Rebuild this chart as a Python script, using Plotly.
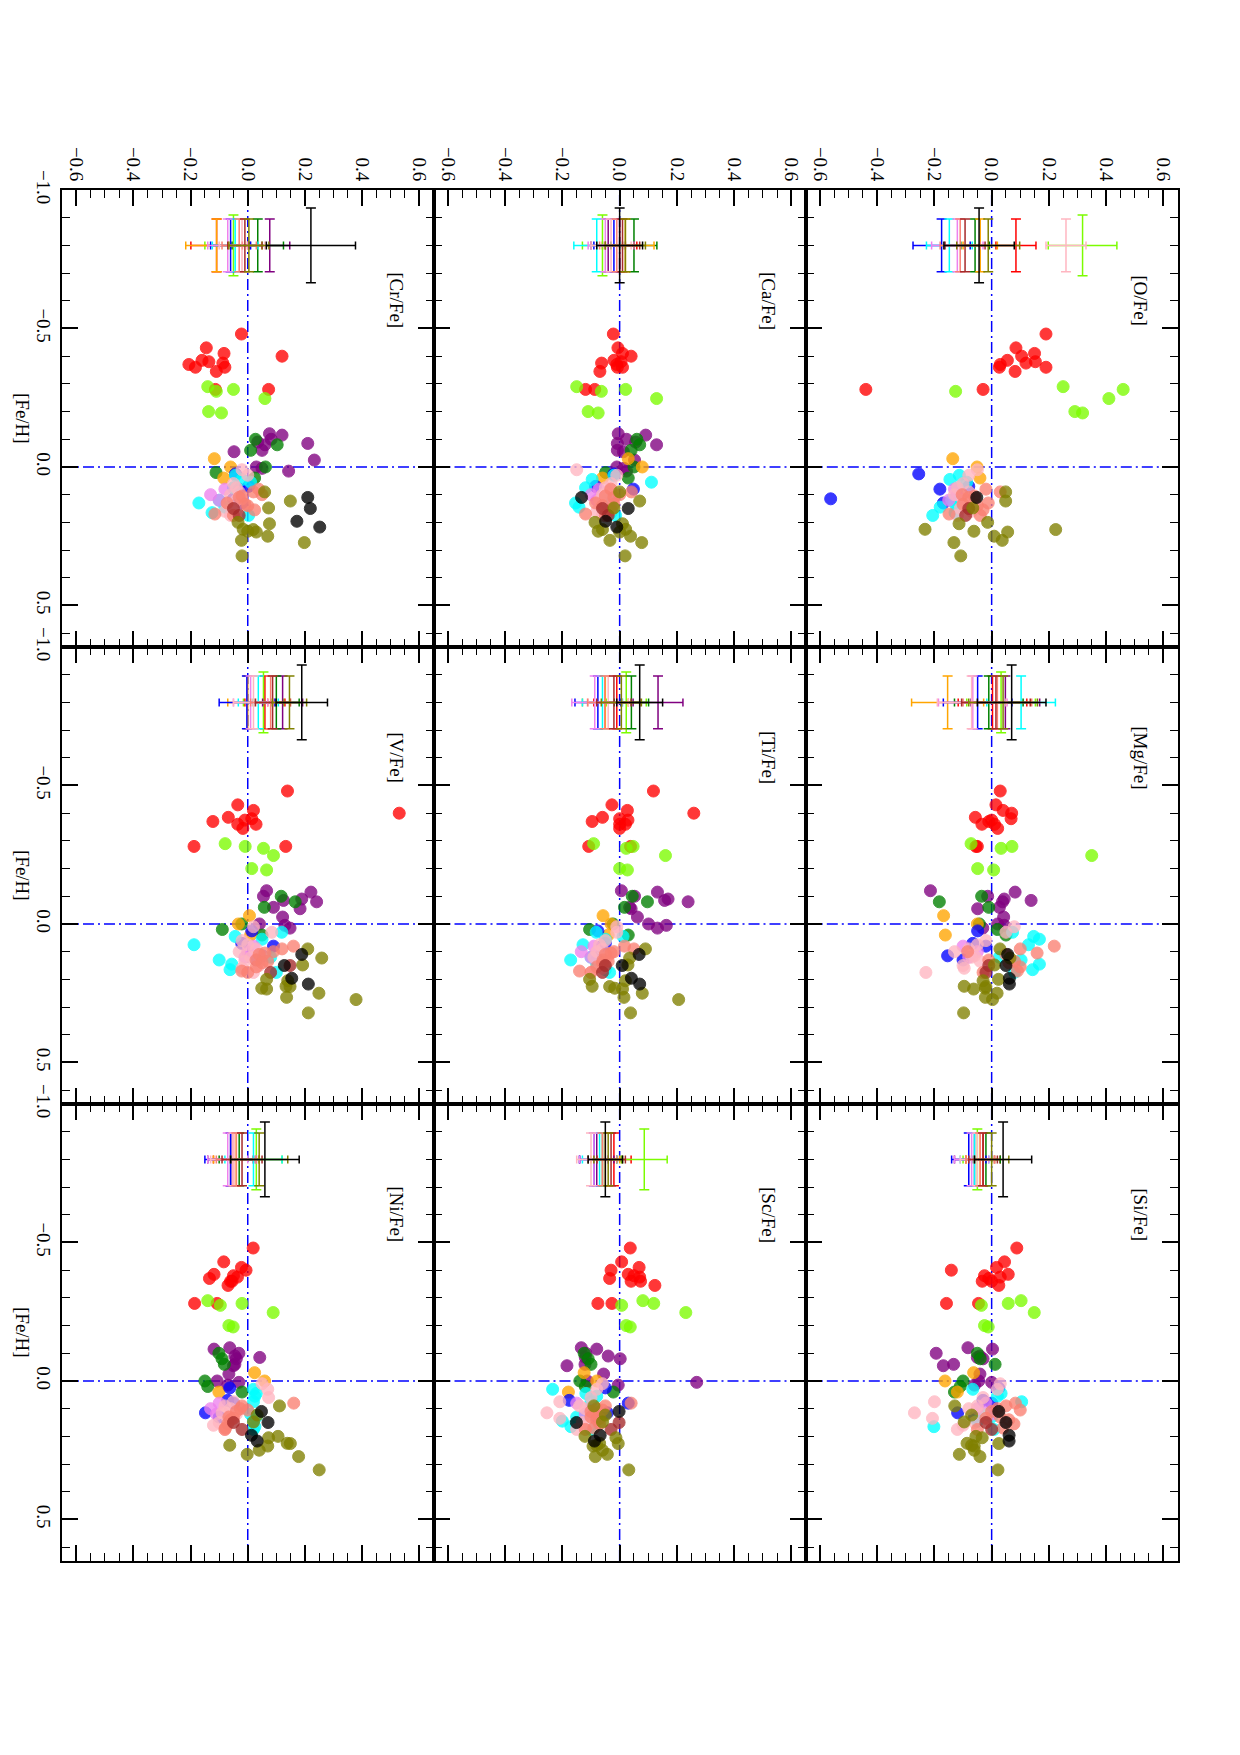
import plotly.graph_objects as go

# ---------------- data ----------------
ELEMENTS = ["O", "Mg", "Si", "Ca", "Ti", "Sc", "Cr", "V", "Ni"]
PANEL_LABELS = ["[O/Fe]", "[Mg/Fe]", "[Si/Fe]", "[Ca/Fe]", "[Ti/Fe]", "[Sc/Fe]",
                "[Cr/Fe]", "[V/Fe]", "[Ni/Fe]"]
# (row, col) of each panel, row 0 = top, col 0 = left
PANEL_GRID = [(0, 2), (1, 2), (2, 2), (0, 1), (1, 1), (2, 1), (0, 0), (1, 0), (2, 0)]

XFE_TICKS = [-0.6, -0.4, -0.2, 0.0, 0.2, 0.4, 0.6]
FEH_TICKS = [-1.0, -0.5, 0.0, 0.5]
XFE_RANGE = [-0.65, 0.65]
FEH_RANGE = [0.65, -1.0]
REF_VALUE = 0.0
CROSS_FEH = -0.8

RED = dict(color="#ff0000",
    feh=[-0.48, -0.43, -0.41, -0.40, -0.385, -0.38, -0.375, -0.37, -0.36, -0.36, -0.345, -0.28, -0.28],
    O=[0.19, 0.085, 0.15, 0.105, 0.055, 0.153, 0.12, 0.03, 0.027, 0.19, 0.082, -0.44, -0.03],
    Mg=[0.03, 0.015, 0.04, 0.07, -0.057, 0.068, 0.0, -0.01, -0.034, 0.01, 0.021, -0.055, -0.05],
    Si=[0.088, 0.045, 0.017, -0.141, 0.058, -0.025, 0.03, -0.01, -0.033, 0.0, 0.025, -0.158, -0.046],
    Ca=[-0.022, -0.006, 0.01, 0.04, -0.02, 0.005, -0.063, -0.01, -0.008, 0.01, -0.069, -0.119, -0.087],
    Ti=[0.118, -0.027, 0.027, 0.259, -0.06, 0.0, 0.029, -0.096, 0.0, 0.02, 0.0, -0.108, 0.038],
    Sc=[0.037, 0.007, 0.068, -0.03, 0.03, 0.05, 0.07, -0.035, 0.073, 0.04, 0.123, -0.076, -0.027],
    Cr=[-0.022, -0.145, -0.083, 0.12, -0.16, -0.136, -0.087, -0.206, -0.183, -0.08, -0.11, -0.113, 0.073],
    V=[0.139, -0.035, 0.02, 0.53, -0.068, 0.014, -0.01, -0.122, -0.035, 0.029, -0.017, -0.188, 0.133],
    Ni=[0.019, -0.084, -0.022, -0.006, -0.118, -0.05, -0.036, -0.134, -0.055, -0.06, -0.069, -0.186, -0.107])

LAWN = dict(color="#7cfc00",
    feh=[-0.29, -0.28, -0.273, -0.247, -0.20, -0.195],
    O=[0.25, 0.46, -0.126, 0.41, 0.291, 0.318],
    Mg=[-0.072, 0.071, 0.033, 0.35, -0.049, 0.007],
    Si=[0.103, 0.058, -0.036, 0.149, -0.025, -0.012],
    Ca=[-0.15, 0.021, -0.064, 0.129, -0.11, -0.075],
    Ti=[-0.091, 0.047, 0.023, 0.16, 0.0, 0.027],
    Sc=[0.081, 0.119, 0.007, 0.231, 0.023, 0.037],
    Cr=[-0.14, -0.05, -0.11, 0.06, -0.137, -0.092],
    V=[-0.079, -0.009, 0.055, 0.09, 0.014, 0.066],
    Ni=[-0.14, -0.02, -0.096, 0.089, -0.066, -0.051])

PURPLE = dict(color="#800080",
    feh=[-0.12, -0.115, -0.10, -0.09, -0.085, -0.08, -0.06, -0.055, -0.025, 0.0, 0.005, 0.015],
    Mg=[-0.214, 0.082, -0.014, 0.044, 0.138, 0.038, 0.027, -0.049, 0.042, 0.021, 0.044, -0.031],
    Si=[-0.083, 0.003, -0.194, -0.041, -0.05, -0.03, -0.133, -0.169, -0.041, -0.045, 0.0, -0.06],
    Ca=[-0.005, 0.091, 0.024, 0.056, -0.008, 0.129, -0.008, 0.013, 0.052, -0.01, 0.015, 0.024],
    Ti=[0.006, 0.132, 0.052, 0.169, 0.157, 0.239, 0.035, 0.04, 0.062, 0.101, 0.163, 0.132],
    Sc=[-0.134, -0.08, -0.118, -0.04, -0.12, 0.002, -0.121, -0.184, -0.056, -0.113, 0.269, -0.005],
    Cr=[0.076, 0.12, 0.082, 0.035, 0.21, 0.06, 0.05, -0.048, 0.233, 0.03, 0.05, 0.143],
    V=[0.066, 0.221, 0.055, 0.189, 0.125, 0.241, 0.09, 0.183, 0.122, 0.041, 0.13, 0.148],
    Ni=[-0.063, -0.118, -0.031, -0.045, 0.042, -0.04, -0.045, -0.05, -0.066, -0.107, -0.031, -0.07])

DKGREEN = dict(color="#008000",
    feh=[-0.10, -0.08, -0.06, 0.0, 0.02, 0.04],
    Mg=[-0.035, -0.183, -0.01, -0.043, 0.02, 0.05],
    Si=[-0.05, -0.04, 0.012, -0.1, -0.11, -0.13],
    Ca=[0.06, 0.07, 0.04, 0.05, -0.049, 0.03],
    Ti=[0.044, 0.097, 0.017, -0.023, -0.105, 0.03],
    Sc=[-0.124, -0.11, -0.1, -0.139, -0.12, -0.022],
    Cr=[0.027, 0.103, 0.01, 0.062, -0.111, 0.024],
    V=[0.117, 0.166, 0.058, -0.021, -0.089, 0.05],
    Ni=[-0.101, -0.09, -0.082, -0.15, -0.14, -0.02])

ORANGE = dict(color="#ffa500",
    feh=[-0.03, 0.0, 0.04],
    O=[-0.136, -0.051, -0.041],
    Mg=[-0.168, -0.05, -0.162],
    Si=[-0.063, -0.163, -0.12],
    Ca=[0.03, 0.079, -0.06],
    Ti=[-0.058, -0.03, -0.04],
    Sc=[-0.124, -0.08, -0.179],
    Cr=[-0.117, -0.06, -0.084],
    V=[0.006, -0.033, 0.01],
    Ni=[0.024, 0.059, -0.101])

BLUE = dict(color="#0000ff",
    feh=[0.025, 0.07, 0.08, 0.115, 0.13],
    O=[-0.255, -0.08, -0.181, -0.563, -0.169],
    Mg=[-0.049, -0.066, -0.02, -0.154, -0.1],
    Si=[0.025, -0.03, 0.0, -0.119, -0.06],
    Ca=[-0.02, -0.084, 0.048, -0.03, -0.05],
    Ti=[-0.076, -0.05, -0.06, -0.07, -0.08],
    Sc=[-0.05, -0.176, 0.03, -0.043, -0.08],
    Cr=[-0.043, 0.003, -0.03, -0.05, -0.02],
    V=[0.014, -0.021, 0.09, 0.05, 0.03],
    Ni=[-0.063, -0.07, -0.05, -0.148, -0.1])

CYAN = dict(color="#00ffff",
    feh=[0.03, 0.045, 0.055, 0.075, 0.12, 0.13, 0.145, 0.165, 0.175],
    O=[-0.113, -0.146, -0.087, -0.12, -0.14, -0.13, -0.18, -0.128, -0.206],
    Mg=[0.073, 0.147, 0.167, 0.129, 0.027, 0.103, 0.167, 0.143, 0.08],
    Si=[-0.066, 0.033, 0.02, 0.105, -0.02, 0.0, -0.05, -0.202, 0.008],
    Ca=[-0.02, -0.096, 0.111, -0.119, -0.05, -0.154, -0.142, -0.03, -0.014],
    Ti=[-0.082, 0.012, -0.05, -0.128, -0.1, -0.171, -0.08, -0.05, -0.035],
    Sc=[-0.234, -0.118, -0.08, -0.1, -0.12, -0.15, -0.2, -0.17, -0.1],
    Cr=[-0.043, -0.02, 0.01, -0.05, -0.1, -0.171, -0.08, -0.125, 0.003],
    V=[0.119, -0.044, 0.05, -0.188, 0.08, -0.1, -0.056, -0.062, 0.1],
    Ni=[0.02, 0.03, 0.025, 0.02, 0.01, 0.03, 0.02, 0.025, 0.02])

VIOLET = dict(color="#ee82ee",
    feh=[0.08, 0.10, 0.12],
    O=[-0.13, -0.12, -0.15],
    Mg=[-0.1, -0.05, -0.08],
    Si=[-0.02, -0.05, 0.0],
    Ca=[-0.072, -0.1, -0.08],
    Ti=[-0.09, -0.134, -0.1],
    Sc=[-0.15, -0.1, -0.12],
    Cr=[-0.08, -0.13, -0.1],
    V=[0.02, 0.0, -0.01],
    Ni=[-0.1, -0.13, -0.11])

PINK = dict(color="#ffb6c1",
    feh=[0.01, 0.03, 0.06, 0.075, 0.09, 0.10, 0.115, 0.12, 0.135, 0.15, 0.16, 0.175],
    O=[-0.05, -0.08, -0.1, -0.12, -0.08, -0.13, -0.06, -0.1, -0.09, -0.11, -0.07, -0.12],
    Mg=[0.079, 0.05, -0.02, -0.05, -0.08, -0.13, -0.06, -0.07, -0.04, -0.1, -0.096, -0.23],
    Si=[0.03, 0.02, -0.03, -0.2, -0.05, -0.08, -0.27, -0.03, -0.207, -0.06, -0.1, -0.12],
    Ca=[-0.15, -0.01, -0.03, -0.05, -0.04, -0.06, -0.02, -0.07, -0.05, -0.03, -0.08, -0.06],
    Ti=[-0.01, -0.01, -0.05, -0.07, -0.06, -0.08, -0.04, -0.09, -0.05, -0.07, -0.06, -0.1],
    Sc=[-0.06, -0.08, -0.1, -0.209, -0.14, -0.12, -0.254, -0.1, -0.209, -0.13, -0.11, -0.15],
    Cr=[-0.02, 0.0, -0.05, -0.04, -0.03, -0.06, -0.02, -0.04, -0.07, -0.05, -0.08, -0.06],
    V=[0.02, 0.084, -0.02, 0.0, 0.03, -0.03, 0.05, 0.01, -0.01, 0.04, -0.02, 0.02],
    Ni=[0.05, 0.07, 0.073, -0.05, -0.08, -0.06, -0.09, -0.04, -0.07, -0.1, -0.12, -0.08])

SALMON = dict(color="#fa8072",
    feh=[0.08, 0.09, 0.10, 0.105, 0.11, 0.13, 0.135, 0.14, 0.155, 0.17, 0.175],
    O=[-0.02, 0.03, -0.103, -0.06, -0.08, -0.012, -0.1, -0.05, -0.03, -0.149, -0.04],
    Mg=[0.219, 0.1, -0.084, 0.159, 0.05, -0.01, 0.08, 0.06, 0.1, 0.09, -0.03],
    Si=[0.083, 0.05, 0.02, 0.1, 0.0, 0.03, -0.02, 0.06, 0.078, 0.04, -0.05],
    Ca=[-0.031, 0.041, 0.0, -0.05, -0.02, -0.084, -0.02, -0.06, -0.03, -0.119, -0.05],
    Ti=[0.017, 0.05, -0.02, -0.03, -0.05, -0.058, -0.04, -0.06, -0.08, -0.14, -0.1],
    Sc=[0.04, -0.05, -0.08, -0.06, -0.1, -0.1, -0.07, -0.08, -0.07, -0.09, -0.12],
    Cr=[0.038, 0.02, 0.05, -0.02, -0.03, -0.072, -0.01, 0.0, 0.024, -0.115, -0.05],
    V=[0.16, 0.12, 0.09, 0.06, 0.04, 0.029, 0.07, 0.05, 0.03, -0.021, 0.0],
    Ni=[0.161, -0.02, -0.026, 0.0, -0.04, -0.066, -0.05, -0.06, -0.07, -0.078, -0.08])

BROWN = dict(color="#a52a2a",
    feh=[0.15, 0.175],
    O=[-0.08, -0.091], Mg=[-0.01, -0.02], Si=[-0.02, 0.0], Ca=[-0.06, -0.04],
    Ti=[-0.05, -0.06], Sc=[-0.002, -0.03], Cr=[-0.05, -0.03], V=[0.148, 0.08],
    Ni=[-0.05, -0.02])

OLIVE = dict(color="#808000",
    feh=[0.09, 0.123, 0.148, 0.20, 0.205, 0.225, 0.226, 0.232, 0.235, 0.25, 0.265, 0.273, 0.321],
    O=[0.049, 0.049, -0.066, -0.014, -0.114, -0.233, 0.224, -0.062, 0.056, 0.009, 0.037, -0.132, -0.108],
    Mg=[0.029, 0.064, 0.01, 0.024, -0.03, -0.096, -0.02, -0.022, -0.063, 0.019, -0.022, 0.003, -0.098],
    Si=[-0.129, -0.07, -0.096, -0.055, -0.033, -0.086, 0.025, -0.07, -0.061, -0.061, -0.113, -0.041, 0.022],
    Ca=[0.0, 0.07, -0.02, -0.086, 0.01, 0.021, -0.06, -0.075, 0.0, 0.038, -0.034, 0.077, 0.019],
    Ti=[0.09, 0.035, 0.029, -0.105, 0.02, -0.096, -0.035, -0.017, 0.01, 0.079, 0.015, 0.206, 0.038],
    Sc=[-0.09, -0.05, -0.06, -0.121, -0.013, -0.07, -0.005, -0.08, -0.093, -0.06, -0.043, -0.085, 0.032],
    Cr=[0.059, 0.149, 0.073, -0.034, 0.076, -0.016, 0.019, 0.0, 0.03, 0.07, -0.022, 0.198, -0.02],
    V=[0.21, 0.259, 0.192, 0.066, 0.14, 0.134, 0.148, 0.049, 0.066, 0.249, 0.136, 0.379, 0.212],
    Ni=[0.111, 0.033, 0.02, 0.106, 0.073, 0.138, 0.149, -0.063, 0.07, 0.04, -0.002, 0.178, 0.25])

BLACK = dict(color="#000000",
    feh=[0.11, 0.15, 0.196, 0.217],
    O=[-0.052, None, None, None],
    Mg=[0.056, 0.05, 0.062, 0.062],
    Si=[0.025, 0.05, 0.061, 0.061],
    Ca=[-0.133, 0.03, -0.049, -0.01],
    Ti=[0.068, 0.009, 0.041, 0.07],
    Sc=[-0.002, -0.151, -0.068, -0.088],
    Cr=[0.21, 0.219, 0.172, 0.252],
    V=[0.189, 0.128, 0.154, 0.212],
    Ni=[0.048, 0.071, 0.013, 0.033])

GROUPS = [RED, LAWN, PURPLE, DKGREEN, ORANGE, BLUE, CYAN, VIOLET, PINK, SALMON, BROWN, OLIVE, BLACK]

# typical-error crosses, one per group (same order as GROUPS)
FEH_ERR = [0.095, 0.11, 0.095, 0.095, 0.095, 0.095, 0.095, 0.095, 0.095, 0.095, 0.095, 0.095, 0.135]
CROSS_CENTER = dict(
    O=[0.085, 0.318, None, -0.058, -0.04, -0.175, -0.148, -0.12, 0.26, -0.11, -0.093, -0.012, -0.044],
    Mg=[0.003, 0.033, 0.048, -0.01, -0.154, -0.049, 0.103, -0.066, -0.07, 0.02, 0.015, 0.04, 0.07],
    Si=[-0.03, -0.05, -0.06, -0.02, -0.04, -0.08, -0.06, -0.07, -0.05, -0.04, -0.03, 0.0, 0.04],
    Ca=[0.0, -0.06, -0.04, 0.05, 0.02, -0.02, -0.08, -0.05, -0.03, -0.01, 0.01, 0.02, 0.0],
    Ti=[-0.01, 0.023, 0.134, 0.041, -0.05, -0.076, -0.06, -0.087, -0.04, -0.052, -0.02, 0.006, 0.07],
    Sc=[-0.02, 0.086, -0.08, -0.06, -0.05, -0.09, -0.07, -0.09, -0.10, -0.06, -0.03, -0.04, -0.05],
    Cr=[-0.109, -0.05, 0.077, 0.035, -0.109, -0.06, -0.044, -0.07, -0.02, -0.03, -0.01, 0.004, 0.221],
    V=[0.06, 0.055, 0.122, 0.10, 0.0, -0.003, 0.037, 0.01, 0.02, 0.08, 0.087, 0.146, 0.189],
    Ni=[-0.05, 0.03, -0.06, -0.03, -0.04, -0.06, 0.02, -0.07, -0.05, -0.04, -0.02, 0.04, 0.06])
CROSS_XERR = dict(
    O=[0.07, 0.12, None, 0.05, 0.06, 0.10, 0.08, 0.09, 0.07, 0.07, 0.07, 0.11, 0.123],
    Mg=[0.12, 0.12, 0.12, 0.12, 0.126, 0.12, 0.12, 0.12, 0.12, 0.12, 0.12, 0.12, 0.12],
    Si=[0.06, 0.05, 0.07, 0.05, 0.05, 0.06, 0.05, 0.06, 0.06, 0.05, 0.05, 0.06, 0.10],
    Ca=[0.06, 0.07, 0.06, 0.08, 0.10, 0.07, 0.08, 0.06, 0.07, 0.06, 0.06, 0.07, 0.08],
    Ti=[0.08, 0.07, 0.087, 0.06, 0.08, 0.08, 0.07, 0.08, 0.07, 0.06, 0.06, 0.07, 0.08],
    Sc=[0.06, 0.08, 0.06, 0.05, 0.05, 0.05, 0.06, 0.05, 0.05, 0.05, 0.05, 0.05, 0.06],
    Cr=[0.09, 0.10, 0.07, 0.09, 0.108, 0.07, 0.08, 0.07, 0.08, 0.06, 0.06, 0.07, 0.156],
    V=[0.07, 0.07, 0.07, 0.08, 0.07, 0.097, 0.07, 0.06, 0.07, 0.07, 0.06, 0.06, 0.09],
    Ni=[0.07, 0.09, 0.08, 0.07, 0.08, 0.09, 0.10, 0.07, 0.08, 0.07, 0.07, 0.10, 0.12])

# ---------------- layout helpers ----------------
W, H = 1240, 1755
COL_DOMAINS = [[62 / W, 433.5 / W], [433.5 / W, 805.8 / W], [805.8 / W, 1177.5 / W]]
ROW_DOMAINS = [[1 - 647 / H, 1 - 190 / H], [1 - 1104 / H, 1 - 647 / H], [1 - 1561 / H, 1 - 1104 / H]]
FONT = "Liberation Serif"

fig = go.Figure()
layout = dict(width=W, height=H, margin=dict(l=0, r=0, t=0, b=0, autoexpand=False), autosize=False,
              paper_bgcolor="white", plot_bgcolor="white", showlegend=False,
              font=dict(family=FONT, size=19, color="black"))
shapes, annotations = [], []

for k, (elem, label, (row, col)) in enumerate(zip(ELEMENTS, PANEL_LABELS, PANEL_GRID), start=1):
    sfx = "" if k == 1 else str(k)
    xa, ya = f"x{sfx}", f"y{sfx}"
    for g in GROUPS:
        if elem not in g:
            continue
        fig.add_trace(go.Scatter(
            x=g[elem], y=g["feh"], xaxis=xa, yaxis=ya, mode="markers",
            marker=dict(size=12, color=g["color"], opacity=0.78,
                        line=dict(color=g["color"], width=1)),
            hoverinfo="skip"))
    for g, c, e, fe in zip(GROUPS, CROSS_CENTER[elem], CROSS_XERR[elem], FEH_ERR):
        if c is None:
            continue
        fig.add_trace(go.Scatter(
            x=[c], y=[CROSS_FEH], xaxis=xa, yaxis=ya, mode="markers",
            marker=dict(size=1, color=g["color"]),
            error_x=dict(type="data", array=[e], color=g["color"], thickness=1.5, width=4),
            error_y=dict(type="data", array=[fe], color=g["color"], thickness=1.5, width=5),
            hoverinfo="skip"))

    top_row = row == 0
    left_col = col == 0
    layout[f"xaxis{sfx}"] = dict(
        domain=COL_DOMAINS[col], anchor=ya, range=XFE_RANGE, automargin=False,
        tickmode="array", tickvals=XFE_TICKS, tickformat=".1f",
        ticks="inside", ticklen=16, tickwidth=1.8, tickcolor="black",
        minor=dict(dtick=0.05, tick0=0, ticks="inside", ticklen=8, tickwidth=1.4, tickcolor="black"),
        showline=True, linewidth=2, linecolor="black", mirror="allticks",
        showgrid=False, zeroline=False, side="top",
        showticklabels=top_row, tickangle=90,
        tickfont=dict(family=FONT, size=19, color="black"))
    layout[f"yaxis{sfx}"] = dict(
        domain=ROW_DOMAINS[row], anchor=xa, range=FEH_RANGE, automargin=False,
        tickmode="array", tickvals=FEH_TICKS, tickformat=".1f",
        ticks="inside", ticklen=16, tickwidth=1.8, tickcolor="black",
        minor=dict(dtick=0.1, tick0=0, ticks="inside", ticklen=8, tickwidth=1.4, tickcolor="black"),
        showline=True, linewidth=2, linecolor="black", mirror="allticks",
        showgrid=False, zeroline=False, side="left",
        showticklabels=left_col, tickangle=90,
        tickfont=dict(family=FONT, size=19, color="black"))

    dash = "11px,4px,2px,4px"
    shapes.append(dict(type="line", xref=xa, yref=f"{ya} domain", x0=REF_VALUE, x1=REF_VALUE,
                       y0=0, y1=1, line=dict(color="#0000ff", width=1.5, dash=dash), layer="below"))
    shapes.append(dict(type="line", xref=f"{xa} domain", yref=ya, x0=0, x1=1,
                       y0=REF_VALUE, y1=REF_VALUE, line=dict(color="#0000ff", width=1.5, dash=dash),
                       layer="below"))
    annotations.append(dict(text=label, xref=f"{xa} domain", yref=f"{ya} domain", x=0.9, y=0.758,
                            textangle=90, showarrow=False, xanchor="center", yanchor="middle",
                            font=dict(family=FONT, size=19, color="black")))

for row in range(3):
    yc = sum(ROW_DOMAINS[row]) / 2
    annotations.append(dict(text="[Fe/H]", xref="paper", yref="paper", x=22.5 / W, y=yc,
                            textangle=90, showarrow=False, xanchor="center", yanchor="middle",
                            font=dict(family=FONT, size=19, color="black")))

layout["shapes"] = shapes
layout["annotations"] = annotations
fig.update_layout(**layout)
fig.write_html("out.html")
